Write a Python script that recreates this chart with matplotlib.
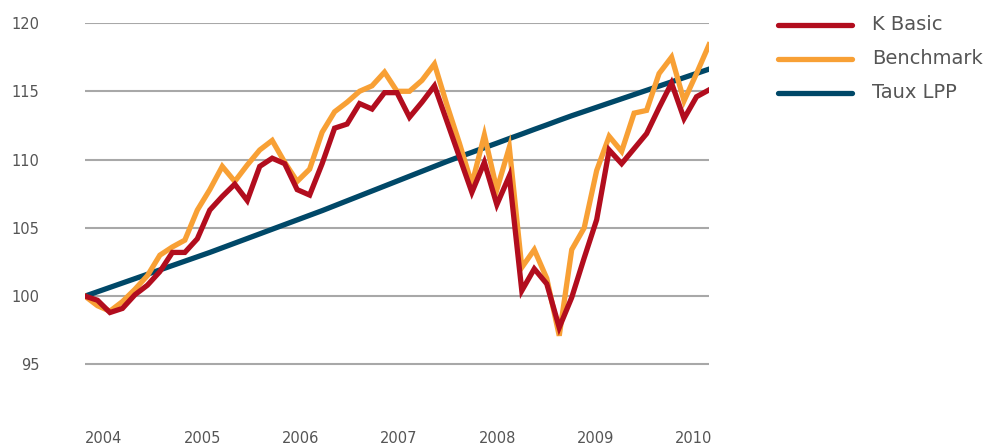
import matplotlib
matplotlib.use("Agg")
import matplotlib.pyplot as plt
from matplotlib.lines import Line2D

plt.rcParams['font.family'] = ['DejaVu Sans']

# ---- data (index = observation, ~8 per year, start of 2004 to early 2010) ----
k_basic = [100.0, 99.7, 98.8, 99.1, 100.1, 100.8, 101.8, 103.2, 103.2, 104.2,
           106.3, 107.3, 108.2, 107.0, 109.5, 110.1, 109.7, 107.8, 107.4, 109.7,
           112.3, 112.6, 114.1, 113.7, 114.9, 114.9, 113.1, 114.2, 115.4, 112.8,
           110.2, 107.6, 109.8, 106.7, 108.8, 100.4, 102.0, 100.9, 97.7, 99.9,
           102.8, 105.6, 110.7, 109.7, 110.8, 111.9, 113.8, 115.6, 113.0, 114.6,
           115.1]
benchmark = [100.0, 99.3, 98.9, 99.6, 100.5, 101.5, 103.0, 103.6, 104.1, 106.3,
             107.8, 109.5, 108.4, 109.6, 110.7, 111.4, 109.8, 108.4, 109.3, 112.0,
             113.5, 114.2, 115.0, 115.4, 116.4, 115.0, 115.0, 115.8, 117.0, 114.0,
             111.2, 108.2, 111.8, 107.8, 110.9, 102.1, 103.4, 101.3, 97.1, 103.4,
             105.0, 109.2, 111.7, 110.6, 113.4, 113.6, 116.3, 117.5, 114.3, 116.3,
             118.4]
taux_lpp = [100.00, 100.32, 100.64, 100.96, 101.28, 101.60, 101.92, 102.24,
            102.56, 102.88, 103.20, 103.54, 103.88, 104.22, 104.56, 104.90,
            105.24, 105.58, 105.92, 106.26, 106.62, 106.98, 107.34, 107.70,
            108.06, 108.42, 108.78, 109.14, 109.50, 109.86, 110.20, 110.53,
            110.87, 111.20, 111.54, 111.87, 112.21, 112.54, 112.88, 113.21,
            113.52, 113.83, 114.14, 114.45, 114.76, 115.07, 115.38, 115.69,
            116.00, 116.31, 116.62]
year_labels = ['2004', '2005', '2006', '2007', '2008', '2009', '2010']
year_pos = [1.52, 9.46, 17.31, 25.16, 33.05, 40.91, 48.80]
y_ticks = [95, 100, 105, 110, 115, 120]
series_names = ['K Basic', 'Benchmark', 'Taux LPP']

RED = '#b20d1e'
ORANGE = '#f8a035'
BLUE = '#004868'
GRID = '#a8a8a8'
TXT = '#555555'

W, H = 987, 448
fig = plt.figure(figsize=(W / 100, H / 100), dpi=100)
ax_left, ax_right = 85, 709
ax_top, ax_bottom = 23, 432.7
ax = fig.add_axes([ax_left / W, 1 - ax_bottom / H,
                   (ax_right - ax_left) / W, (ax_bottom - ax_top) / H])

x = list(range(len(k_basic)))
lw = 3.8
ax.plot(x, taux_lpp, color=BLUE, lw=lw, solid_joinstyle='miter', zorder=3)
ax.plot(x, benchmark, color=ORANGE, lw=lw, solid_joinstyle='miter', zorder=4)
ax.plot(x, k_basic, color=RED, lw=lw, solid_joinstyle='miter', zorder=5)

ax.set_xlim(0, len(k_basic) - 1)
ax.set_ylim(90, 120)
for v in y_ticks:
    ax.axhline(v, color=GRID, lw=1.5, zorder=1)

ax.set_yticks(y_ticks)
ax.set_yticklabels([str(v) for v in y_ticks], color=TXT, fontsize=10.5)
ax.set_xticks(year_pos)
ax.set_xticklabels(year_labels, color=TXT, fontsize=10.5)
ax.tick_params(axis='y', length=0, pad=33)
ax.tick_params(axis='x', length=0, pad=-1)
for s in ax.spines.values():
    s.set_visible(False)

# legend drawn manually
leg_y = [25, 59, 93]
leg_colors = [RED, ORANGE, BLUE]
for name, yy, c in zip(series_names, leg_y, leg_colors):
    fy = 1 - yy / H
    fig.add_artist(Line2D([778 / W, 852 / W], [fy, fy], color=c, lw=3.8,
                          solid_capstyle='round', transform=fig.transFigure))
    fig.text(872 / W, fy, name, color=TXT, fontsize=14, va='center', ha='left')

fig.savefig('out.png', dpi=100)
